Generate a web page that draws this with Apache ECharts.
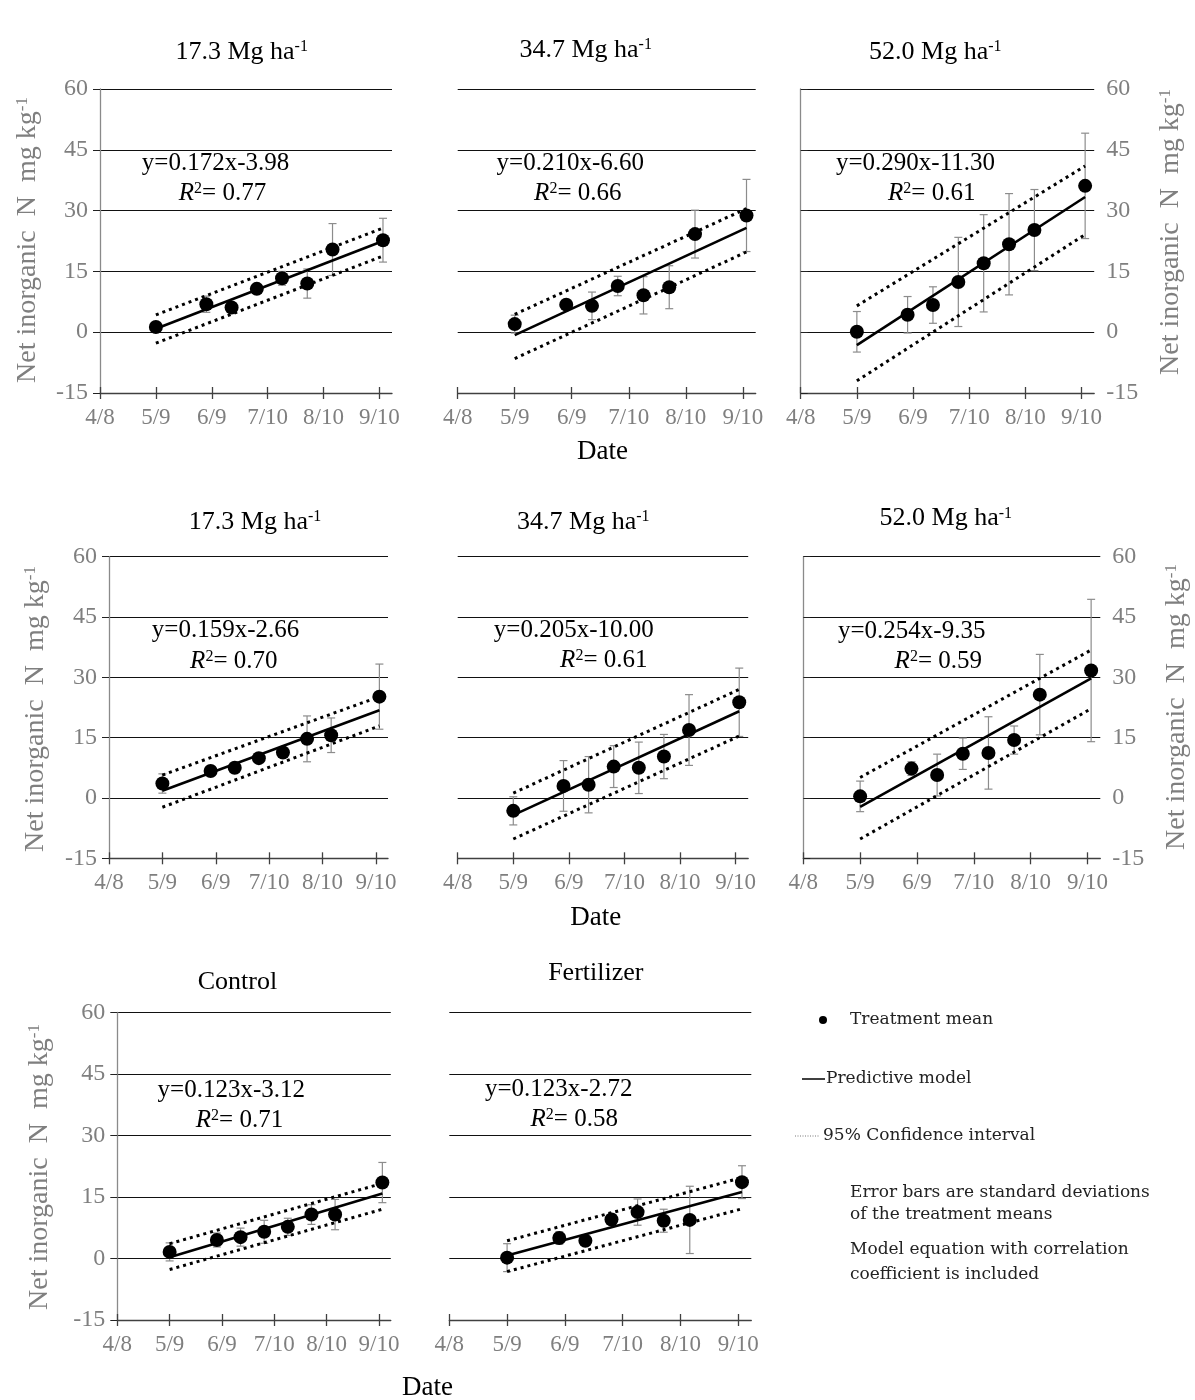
<!DOCTYPE html>
<html><head><meta charset="utf-8">
<script src="https://cdn.jsdelivr.net/npm/echarts@6/dist/echarts.min.js"></script>
<style>html,body{margin:0;padding:0;background:#fff}#c{width:1195px;height:1400px}</style>
</head><body><div id="c"></div>
<script>
// ---------- DATA ----------
// x = days after 4/8 ; the fitted equations use x measured from 4/11 (offset 3 days)
const tickDays = [0, 31, 62, 93, 124, 155];
const tickLabels = ['4/8', '5/9', '6/9', '7/10', '8/10', '9/10'];
const sampleDays = [31, 59, 73, 87, 101, 115, 129, 157];
const modelOffset = 3;

const panelTitles = ['17.3 Mg ha', '34.7 Mg ha', '52.0 Mg ha', '17.3 Mg ha', '34.7 Mg ha', '52.0 Mg ha', 'Control', 'Fertilizer'];
const titleHasUnit = [true, true, true, true, true, true, false, false];

// treatment means and standard deviations
const meanTop173 = [1.3, 6.9, 6.1, 10.7, 13.3, 12.0, 20.4, 22.7];
const sdTop173   = [0.8, 2.0, 1.2, 1.0, 1.7, 3.6, 6.4, 5.4];
const meanTop347 = [2.0, 6.8, 6.5, 11.4, 9.1, 11.1, 24.2, 28.8];
const sdTop347   = [2.2, 1.0, 3.4, 2.4, 4.6, 5.3, 5.9, 8.9];
const meanTop520 = [0.1, 4.3, 6.7, 12.4, 17.0, 21.7, 25.2, 36.1];
const sdTop520   = [5.0, 4.5, 4.5, 11.0, 12.0, 12.5, 10.0, 13.0];
const meanMid173 = [3.6, 6.7, 7.5, 9.9, 11.3, 14.7, 15.6, 25.2];
const sdMid173   = [2.4, 1.2, 0.8, 0.9, 0.9, 5.7, 4.3, 8.1];
const meanMid347 = [-3.2, 3.0, 3.3, 7.8, 7.5, 10.3, 16.9, 23.8];
const sdMid347   = [3.5, 6.3, 7.0, 5.2, 6.4, 5.5, 8.8, 8.5];
const meanMid520 = [0.4, 7.3, 5.7, 11.0, 11.2, 14.4, 25.7, 31.7];
const sdMid520   = [3.8, 1.7, 5.2, 3.9, 9.0, 3.5, 10.0, 17.7];
const meanControl = [1.6, 4.5, 5.2, 6.5, 7.7, 10.7, 10.7, 18.5];
const sdControl   = [2.2, 1.7, 2.2, 2.8, 2.1, 2.4, 3.7, 4.9];
const meanFert    = [0.2, 5.0, 4.3, 9.5, 11.3, 9.2, 9.4, 18.6];
const sdFert      = [3.4, 1.5, 0.8, 1.2, 3.2, 2.8, 8.2, 4.0];

const slopes     = [0.172, 0.210, 0.290, 0.159, 0.205, 0.254, 0.123, 0.123];
const intercepts = [-3.98, -6.60, -11.30, -2.66, -10.00, -9.35, -3.12, -2.72];
const r2Labels   = ['0.77', '0.66', '0.61', '0.70', '0.61', '0.59', '0.71', '0.58'];
const eqLabels   = ['y=0.172x-3.98', 'y=0.210x-6.60', 'y=0.290x-11.30', 'y=0.159x-2.66',
                    'y=0.205x-10.00', 'y=0.254x-9.35', 'y=0.123x-3.12', 'y=0.123x-2.72'];
// 95% confidence interval bounds at first and last sampling date
const ciUpper = [[4.25, 25.7], [4.4, 30.5], [6.5, 41.0], [5.7, 25.2], [1.2, 27.0], [5.1, 36.8], [3.6, 18.3], [4.3, 19.7]];
const ciLower = [[-2.7, 18.8], [-6.5, 19.8], [-12.0, 24.1], [-2.3, 17.9], [-10.2, 15.4], [-10.2, 22.2], [-2.7, 12.0], [-3.2, 12.1]];

const yTicks = { min: -15, max: 60, interval: 15 };
const xMax = 162;

// ---------- LAYOUT ----------
const means = [meanTop173, meanTop347, meanTop520, meanMid173, meanMid347, meanMid520, meanControl, meanFert];
const sds   = [sdTop173, sdTop347, sdTop520, sdMid173, sdMid347, sdMid520, sdControl, sdFert];
const gridRects = [
  [100, 89, 292, 304], [457.7, 89, 298, 304], [800.7, 89, 293.5, 304],
  [109, 556.7, 279, 301.6], [457.7, 556.7, 290.5, 301.6], [803.3, 556.7, 297, 301.6],
  [117.3, 1012.3, 273.5, 307.7], [449.3, 1012.3, 302, 307.7]
];
const yAxisSide = ['left', 'none', 'right', 'left', 'none', 'right', 'left', 'none'];
const titlePos = [[241.7, 52], [585.7, 50], [935.3, 52], [255, 521.7], [583.3, 521.7], [945.8, 518.3], [237.5, 981.7], [595.8, 973.3]];
const eqPos = [[215.5, 163.3], [570.3, 163.3], [915.5, 163], [225.5, 630.7], [573.8, 630], [911.7, 631.7], [231.3, 1090], [558.7, 1089]];
const r2Pos = [[222.5, 193.3], [577.8, 193], [931.7, 193], [233.8, 661], [603.8, 660], [938.3, 661.7], [239.5, 1120], [574.2, 1119.3]];
const yNamePos = [[28, 240, 0], [1171, 232, 2], [36, 709, 3], [1177, 707, 5], [40, 1167, 6]];
const datePos = [[602.5, 452], [595.7, 918], [427.5, 1388]];

const FONT = "'Liberation Serif', 'Times New Roman', serif";
const GRAY = '#7f7f7f';

const grids = [], xAxes = [], yAxes = [], series = [];
gridRects.forEach((r, i) => {
  grids.push({ left: r[0], top: r[1], width: r[2], height: r[3], containLabel: false });
  const labelFmt = v => { const k = tickDays.indexOf(v); return k >= 0 ? tickLabels[k] : ''; };
  xAxes.push({
    gridIndex: i, type: 'value', min: 0, max: xMax, position: 'bottom',
    axisLine: { show: true, onZero: false, lineStyle: { color: '#404040', width: 1.3 } },
    axisTick: { show: true, customValues: tickDays, length: 6, lineStyle: { color: '#404040', width: 1.3 } },
    axisLabel: { show: true, customValues: tickDays, formatter: labelFmt, color: GRAY, fontSize: 23, fontFamily: FONT, margin: 13 },
    splitLine: { show: false }
  });
  xAxes.push({
    gridIndex: i, type: 'value', min: 0, max: xMax, position: 'bottom',
    axisLine: { show: false, onZero: false },
    axisTick: { show: true, inside: true, customValues: tickDays, length: 6, lineStyle: { color: '#404040', width: 1.3 } },
    axisLabel: { show: false }, splitLine: { show: false }
  });
  const side = yAxisSide[i];
  const has = side !== 'none';
  yAxes.push({
    gridIndex: i, type: 'value', min: yTicks.min, max: yTicks.max, interval: yTicks.interval,
    position: side === 'right' ? 'right' : 'left',
    axisLine: { show: has, lineStyle: { color: '#8a8a8a', width: 1.3 } },
    axisTick: { show: has, length: 7, lineStyle: { color: '#222', width: 1 } },
    axisLabel: { show: has, color: GRAY, fontSize: 24, fontFamily: FONT, margin: 12 },
    splitLine: { show: true, showMinLine: false, lineStyle: { color: '#111', width: 1.2 } }
  });
  const xi = i * 2;
  const d0 = sampleDays[0], dN = sampleDays[sampleDays.length - 1];
  const f = d => slopes[i] * (d - modelOffset) + intercepts[i];
  series.push({
    type: 'custom', xAxisIndex: xi, yAxisIndex: i, z: 2, silent: true,
    data: sampleDays.map((d, j) => [d, means[i][j], sds[i][j]]),
    renderItem: (params, api) => {
      const x = api.value(0), m = api.value(1), s = api.value(2);
      const top = api.coord([x, m + s]), bot = api.coord([x, m - s]);
      const hw = 4, st = { stroke: '#8c8c8c', lineWidth: 1.2 };
      return { type: 'group', children: [
        { type: 'line', shape: { x1: top[0], y1: top[1], x2: bot[0], y2: bot[1] }, style: st },
        { type: 'line', shape: { x1: top[0] - hw, y1: top[1], x2: top[0] + hw, y2: top[1] }, style: st },
        { type: 'line', shape: { x1: bot[0] - hw, y1: bot[1], x2: bot[0] + hw, y2: bot[1] }, style: st }
      ] };
    }
  });
  series.push({
    type: 'line', xAxisIndex: xi, yAxisIndex: i, z: 3, silent: true, showSymbol: false,
    data: [[d0, f(d0)], [dN, f(dN)]], lineStyle: { color: '#000', width: 2.6 }
  });
  [ciUpper[i], ciLower[i]].forEach(ci => series.push({
    type: 'line', xAxisIndex: xi, yAxisIndex: i, z: 3, silent: true, showSymbol: false,
    data: [[d0, ci[0]], [dN, ci[1]]], lineStyle: { color: '#000', width: 3, type: [3, 4], cap: 'butt' }
  }));
  series.push({
    type: 'scatter', xAxisIndex: xi, yAxisIndex: i, z: 4, silent: true,
    data: sampleDays.map((d, j) => [d, means[i][j]]),
    symbol: 'circle', symbolSize: 14, itemStyle: { color: '#000', opacity: 1 }
  });
});

// ---------- TEXT ----------
const g = [];
function txt(x, y, text, style, extra) {
  return Object.assign({ type: 'text', x, y, silent: true,
    style: Object.assign({ text, fill: '#000', fontSize: 26, fontFamily: FONT, align: 'center', verticalAlign: 'middle' }, style) }, extra || {});
}
panelTitles.forEach((t, i) => {
  const text = titleHasUnit[i] ? t + '{sup|-1}' : t;
  g.push(txt(titlePos[i][0], titlePos[i][1], text, { fontSize: 26,
    rich: { sup: { fontSize: 16, fontFamily: FONT, verticalAlign: 'top', fill: '#000' } } }));
  g.push(txt(eqPos[i][0], eqPos[i][1], eqLabels[i], { fontSize: 25 }));
  g.push(txt(r2Pos[i][0], r2Pos[i][1], '{it|R}{sup|2}= ' + r2Labels[i], { fontSize: 25,
    rich: { it: { fontSize: 25, fontStyle: 'italic', fontFamily: FONT, fill: '#000' },
            sup: { fontSize: 16, fontFamily: FONT, verticalAlign: 'top', fill: '#000' } } }));
});
yNamePos.forEach(p => {
  g.push(txt(p[0], p[1], 'Net inorganic  N  mg kg{sup|-1}', { fontSize: 28, fill: GRAY,
    rich: { sup: { fontSize: 17, fontFamily: FONT, verticalAlign: 'top', fill: GRAY } } }, { rotation: Math.PI / 2 }));
});
datePos.forEach(p => g.push(txt(p[0], p[1], 'Date', { fontSize: 27 })));

// legend
const LF = "'DejaVu Serif', serif";
const lt = (x, y, t) => ({ type: 'text', x, y, silent: true, style: { text: t, fill: '#222', fontSize: 17, fontFamily: LF, align: 'left', verticalAlign: 'middle' } });
g.push({ type: 'circle', silent: true, shape: { cx: 823, cy: 1020, r: 4 }, style: { fill: '#000' } });
g.push(lt(850, 1020, 'Treatment mean'));
g.push({ type: 'line', silent: true, shape: { x1: 802, y1: 1079, x2: 825, y2: 1079 }, style: { stroke: '#000', lineWidth: 1.5 } });
g.push(lt(826, 1079, 'Predictive model'));
g.push({ type: 'line', silent: true, shape: { x1: 795, y1: 1136, x2: 819, y2: 1136 }, style: { stroke: '#777', lineWidth: 1, lineDash: [1, 1.5] } });
g.push(lt(823, 1136, '95% Confidence interval'));
g.push(lt(850, 1193, 'Error bars are standard deviations'));
g.push(lt(850, 1215, 'of the treatment means'));
g.push(lt(850, 1250, 'Model equation with correlation'));
g.push(lt(850, 1275, 'coefficient is included'));

const chart = echarts.init(document.getElementById('c'), null, { renderer: 'canvas' });
chart.setOption({
  animation: false,
  backgroundColor: '#fff',
  grid: grids, xAxis: xAxes, yAxis: yAxes, series: series, graphic: g
});
</script></body></html>
